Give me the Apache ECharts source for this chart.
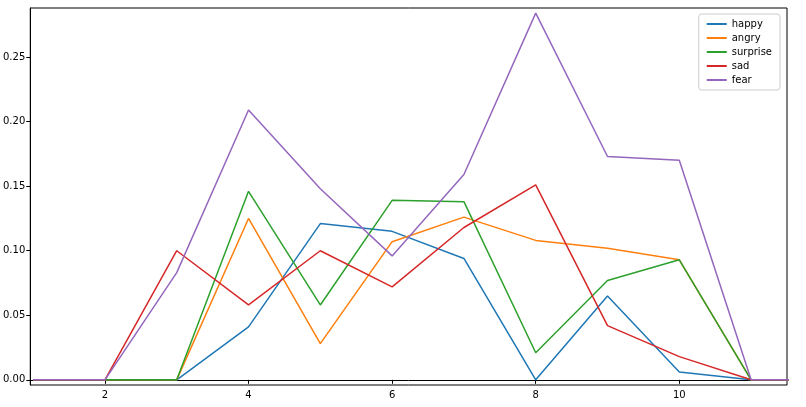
<!DOCTYPE html>
<html><head><meta charset="utf-8">
<script src="https://cdn.jsdelivr.net/npm/echarts@6/dist/echarts.min.js"></script>
<style>html,body{margin:0;padding:0;background:#fff}#c{width:806px;height:407px}</style>
</head><body><div id="c"></div>
<script>
const xs = [1, 2, 3, 4, 5, 6, 7, 8, 9, 10, 11, 12];
const happy = [0, 0, 0, 0.041, 0.121, 0.115, 0.094, 0, 0.065, 0.006, 0, 0];
const angry = [0, 0, 0, 0.125, 0.028, 0.107, 0.126, 0.108, 0.102, 0.093, 0, 0];
const surprise = [0, 0, 0, 0.146, 0.058, 0.139, 0.138, 0.021, 0.077, 0.093, 0, 0];
const sad = [0, 0, 0.100, 0.058, 0.100, 0.072, 0.118, 0.151, 0.042, 0.018, 0, 0];
const fear = [0, 0, 0.083, 0.209, 0.148, 0.096, 0.159, 0.284, 0.173, 0.170, 0, 0];
const xTicks = [2, 4, 6, 8, 10];
const yTicks = [0, 0.05, 0.10, 0.15, 0.20, 0.25];

const names = ['happy', 'angry', 'surprise', 'sad', 'fear'];
const values = [happy, angry, surprise, sad, fear];
const colors = ['#1f77b4', '#ff7f0e', '#2ca02c', '#d62728', '#9467bd'];

const chart = echarts.init(document.getElementById('c'));
const axisLine = {show: true, lineStyle: {color: '#000', width: 1}};
chart.setOption({
    backgroundColor: '#fff',
    animation: false,
    color: colors,
    textStyle: {fontFamily: 'DejaVu Sans'},
    grid: {left: 28, right: 19, top: 8, bottom: 22, show: true, borderColor: '#000', borderWidth: 1},
    legend: {
        orient: 'vertical', right: 26, top: 14, itemGap: 4, itemWidth: 20, itemHeight: 2,
        icon: 'rect', borderColor: '#ccc', borderWidth: 1, borderRadius: 3, padding: [5, 8],
        textStyle: {fontSize: 10, color: '#000'},
        data: names
    },
    xAxis: {
        type: 'value', min: 0.96, max: 11.5,
        axisLine: axisLine, splitLine: {show: false},
        axisTick: {customValues: xTicks, length: 4, lineStyle: {color: '#000'}},
        axisLabel: {customValues: xTicks, fontSize: 10, color: '#000', margin: 5}
    },
    yAxis: {
        type: 'value', min: -0.004, max: 0.288,
        axisLine: axisLine, splitLine: {show: false},
        axisTick: {customValues: yTicks, length: 4, lineStyle: {color: '#000'}},
        axisLabel: {customValues: yTicks, fontSize: 10, color: '#000', margin: 5,
            formatter: v => v.toFixed(2)}
    },
    series: names.map((n, i) => ({
        name: n, type: 'line', showSymbol: false, clip: true,
        lineStyle: {width: 1.5},
        data: xs.map((x, j) => [x, values[i][j]])
    }))
});
</script></body></html>
